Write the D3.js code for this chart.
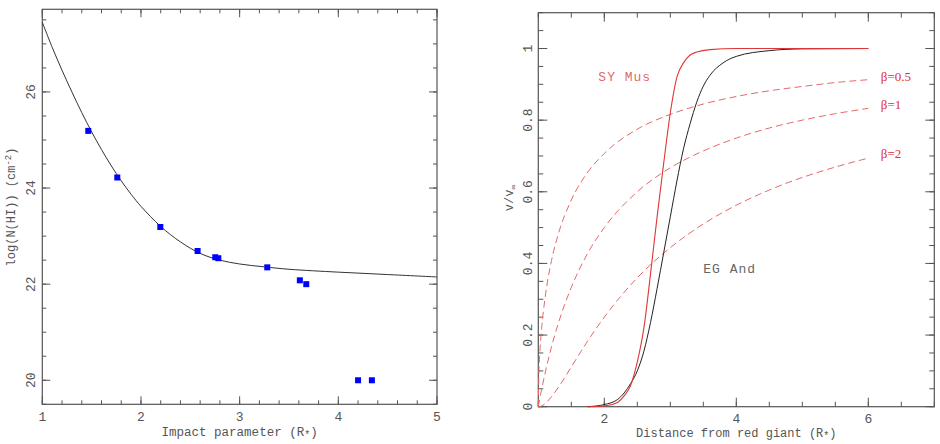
<!DOCTYPE html>
<html>
<head>
<meta charset="utf-8">
<script src="https://cdn.jsdelivr.net/npm/d3@7"></script>
<style>
  body { margin:0; background:#fff; }
  text { font-family:"Liberation Mono", "DejaVu Sans Mono", monospace; fill:#555; }
</style>
</head>
<body>
<svg id="chart" width="940" height="444"></svg>
<script>
// left panel: column density vs impact parameter
const obsX = [1.466, 1.76, 2.196, 2.574, 2.753, 2.784, 3.28, 3.61, 3.675, 4.2, 4.34];
const obsY = [25.19, 24.22, 23.19, 22.69, 22.56, 22.54, 22.35, 22.08, 22.0, 20.0, 20.0];
const fitX = [1.0, 1.1, 1.2, 1.3, 1.4, 1.5, 1.6, 1.7, 1.8, 1.9, 2.0, 2.2, 2.4, 2.6, 2.8, 3.0, 3.25, 3.5, 4.0, 4.5, 5.0];
const fitY = [27.45, 26.93, 26.45, 26.0, 25.57, 25.17, 24.8, 24.46, 24.15, 23.87, 23.62, 23.2, 22.88, 22.64, 22.5, 22.42, 22.36, 22.31, 22.25, 22.2, 22.15];
const leftXTicks = [1, 2, 3, 4, 5];
const leftYTicks = [20, 22, 24, 26];

// right panel: velocity laws
const betaR = [1.0, 1.01, 1.02, 1.05, 1.1, 1.2, 1.3, 1.5, 1.75, 2.0, 2.5, 3.0, 3.5, 4.0, 4.5, 5.0, 5.5, 6.0];
const beta05 = [0, 0.1, 0.14, 0.218, 0.30, 0.408, 0.48, 0.577, 0.655, 0.707, 0.775, 0.816, 0.845, 0.866, 0.882, 0.894, 0.905, 0.913];
const beta1 = [0, 0.01, 0.02, 0.048, 0.091, 0.167, 0.231, 0.333, 0.429, 0.5, 0.6, 0.667, 0.714, 0.75, 0.778, 0.8, 0.818, 0.833];
const beta2 = [0, 0, 0, 0.002, 0.008, 0.028, 0.053, 0.111, 0.184, 0.25, 0.36, 0.444, 0.51, 0.5625, 0.605, 0.64, 0.669, 0.694];
const egR = [1.75, 2.0, 2.2, 2.4, 2.5, 2.6, 2.7, 2.8, 2.9, 3.0, 3.1, 3.2, 3.3, 3.4, 3.5, 3.6, 3.8, 4.0, 4.5, 5.0, 6.0];
const egV = [0, 0.006, 0.02, 0.065, 0.1, 0.155, 0.235, 0.33, 0.43, 0.53, 0.63, 0.72, 0.79, 0.85, 0.895, 0.925, 0.96, 0.978, 0.994, 0.999, 1.0];
const syR = [1.75, 2.0, 2.2, 2.3, 2.4, 2.5, 2.6, 2.7, 2.8, 2.9, 3.0, 3.1, 3.2, 3.3, 3.4, 3.6, 4.0, 6.0];
const syV = [0, 0.002, 0.012, 0.03, 0.06, 0.125, 0.22, 0.37, 0.53, 0.68, 0.82, 0.92, 0.96, 0.982, 0.99, 0.997, 1.0, 1.0];
const rightXTicks = [2, 4, 6];
const rightYTicks = [0, 0.2, 0.4, 0.6, 0.8, 1];
const rightYLabels = ["0", "0.2", "0.4", "0.6", "0.8", "1"];
const betaNames = ["\u03b2=0.5", "\u03b2=1", "\u03b2=2"];

let svg = d3.select("#chart");

function frame(g, x, y, xMajor, xMinor, yMajor, yMinor, maj, mnr) {
  let [x0, x1] = x.range();
  let [y0, y1] = y.range();
  g.append("rect").attr("x", x0).attr("y", y1).attr("width", x1 - x0).attr("height", y0 - y1)
    .attr("fill", "none").attr("stroke", "#555").attr("stroke-width", 1.2);
  let t = g.append("g").attr("stroke", "#555").attr("stroke-width", 1);
  let xt = xMinor.map(v => [v, mnr]).concat(xMajor.map(v => [v, maj]));
  let yt = yMinor.map(v => [v, mnr]).concat(yMajor.map(v => [v, maj]));
  xt.forEach(d => {
    t.append("line").attr("x1", x(d[0])).attr("x2", x(d[0])).attr("y1", y0).attr("y2", y0 - d[1]);
    t.append("line").attr("x1", x(d[0])).attr("x2", x(d[0])).attr("y1", y1).attr("y2", y1 + d[1]);
  });
  yt.forEach(d => {
    t.append("line").attr("y1", y(d[0])).attr("y2", y(d[0])).attr("x1", x0).attr("x2", x0 + d[1]);
    t.append("line").attr("y1", y(d[0])).attr("y2", y(d[0])).attr("x1", x1).attr("x2", x1 - d[1]);
  });
}

// ---------- left panel
let xL = d3.scaleLinear().domain([1, 5]).range([42.3, 437]);
let yL = d3.scaleLinear().domain([19.5, 27.72]).range([404.3, 9.3]);
let gL = svg.append("g");

frame(gL, xL, yL, leftXTicks, d3.range(1, 5.001, 0.2).map(v => +v.toFixed(1)),
  leftYTicks, d3.range(19.5, 27.6, 0.5), 8, 4);

let fit = fitX.map((v, i) => [v, fitY[i]]);
gL.append("path").datum(fit)
  .attr("d", d3.line().x(d => xL(d[0])).y(d => yL(d[1])).curve(d3.curveCatmullRom))
  .attr("fill", "none").attr("stroke", "#333").attr("stroke-width", 1);

gL.selectAll(".obs").data(obsX.map((v, i) => [v, obsY[i]])).enter()
  .append("rect").attr("class", "obs")
  .attr("x", d => xL(d[0]) - 3).attr("y", d => yL(d[1]) - 3)
  .attr("width", 6).attr("height", 6).attr("fill", "#0000ff");

gL.selectAll(".xl").data(leftXTicks).enter().append("text")
  .attr("x", d => xL(d)).attr("y", 421).attr("text-anchor", "middle")
  .style("font-size", "13px").text(d => d);
gL.selectAll(".yl").data(leftYTicks).enter().append("text")
  .attr("transform", d => "translate(35," + yL(d) + ") rotate(-90)")
  .attr("text-anchor", "middle").style("font-size", "13px").text(d => d);

let tl = gL.append("text").attr("x", xL(3)).attr("y", 436).attr("text-anchor", "middle")
  .style("font-size", "12.5px");
tl.append("tspan").text("Impact parameter (R");
tl.append("tspan").text("*").attr("dy", 2).style("font-size", "10px");
tl.append("tspan").text(")").attr("dy", -2);

let yt = gL.append("text").attr("transform", "translate(15,207) rotate(-90)")
  .attr("text-anchor", "middle").style("font-size", "12px");
yt.append("tspan").text("log(N(HI)) (cm");
yt.append("tspan").text("-2").attr("dy", -4).style("font-size", "9px");
yt.append("tspan").text(")").attr("dy", 4);

// ---------- right panel
let xR = d3.scaleLinear().domain([1, 7]).range([538.3, 934.3]);
let yR = d3.scaleLinear().domain([0, 1.1]).range([406.7, 12.7]);
let gR = svg.append("g");

frame(gR, xR, yR, rightXTicks, d3.range(1, 7.001, 0.5), rightYTicks,
  d3.range(0, 1.101, 0.05).map(v => +v.toFixed(2)), 9, 5);

let lineR = d3.line().x(d => xR(d[0])).y(d => yR(d[1])).curve(d3.curveMonotoneX);
[beta05, beta1, beta2].forEach((s, k) => {
  gR.append("path").datum(betaR.map((r, i) => [r, s[i]]))
    .attr("d", lineR).attr("fill", "none").attr("stroke", "#e56a6a")
    .attr("stroke-width", 1).attr("stroke-dasharray", "7,4");
});
gR.append("path").datum(egR.map((r, i) => [r, egV[i]]))
  .attr("d", lineR).attr("fill", "none").attr("stroke", "#222").attr("stroke-width", 1);
gR.append("path").datum(syR.map((r, i) => [r, syV[i]]))
  .attr("d", lineR).attr("fill", "none").attr("stroke", "#e03535").attr("stroke-width", 1.1);

gR.selectAll(".bl").data(betaNames).enter().append("text")
  .attr("x", xR(6.19)).attr("y", (d, i) => yR([0.92, 0.842, 0.705][i]) + 4)
  .style("font-family", "Liberation Serif").style("font-size", "13px")
  .style("fill", "#e03030").text(d => d);

gR.append("text").attr("x", xR(2.31)).attr("y", yR(0.92) + 4).attr("text-anchor", "middle")
  .style("font-size", "13px").style("letter-spacing", "1px").style("fill", "#e06a6a").text("SY Mus");
gR.append("text").attr("x", xR(3.9)).attr("y", yR(0.384) + 4).attr("text-anchor", "middle")
  .style("font-size", "13px").style("letter-spacing", "1px").style("fill", "#666").text("EG And");

gR.selectAll(".xl").data(rightXTicks).enter().append("text")
  .attr("x", d => xR(d)).attr("y", 423).attr("text-anchor", "middle")
  .style("font-size", "13px").text(d => d);
gR.selectAll(".yl").data(rightYTicks).enter().append("text")
  .attr("transform", d => "translate(532," + yR(d) + ") rotate(-90)")
  .attr("text-anchor", "middle").style("font-size", "13px").text((d, i) => rightYLabels[i]);

let tr = gR.append("text").attr("x", xR(4)).attr("y", 437).attr("text-anchor", "middle")
  .style("font-size", "12px");
tr.append("tspan").text("Distance from red giant (R");
tr.append("tspan").text("*").attr("dy", 2).style("font-size", "10px");
tr.append("tspan").text(")").attr("dy", -2);

let vt = gR.append("text").attr("transform", "translate(513,198) rotate(-90)")
  .attr("text-anchor", "middle").style("font-size", "12px");
vt.append("tspan").text("v/v");
vt.append("tspan").text("\u221e").attr("dy", 3).style("font-size", "8px");
</script>
</body>
</html>
